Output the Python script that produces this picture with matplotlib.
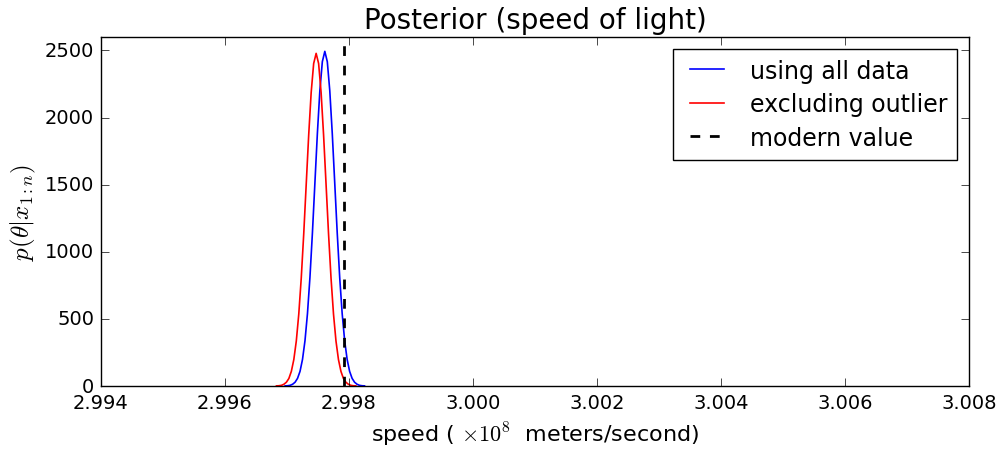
import matplotlib
matplotlib.use('Agg')
import matplotlib.pyplot as plt
from matplotlib.ticker import FormatStrFormatter

# values (speed in units of 1e8 m/s)
x_all = [2.99697, 2.99701, 2.99705, 2.99709, 2.99713, 2.99717, 2.99721, 2.99725,
         2.99729, 2.99733, 2.99737, 2.99741, 2.99745, 2.99749, 2.99753, 2.99757,
         2.99761, 2.99765, 2.99769, 2.99773, 2.99777, 2.99781, 2.99785, 2.99789,
         2.99793, 2.99797, 2.99801, 2.99805, 2.99809, 2.99813, 2.99817, 2.99821,
         2.99825]
p_all = [1, 2, 5, 13, 28, 57, 109, 198, 337, 539, 809, 1141, 1512, 1882, 2200, 2416,
         2493, 2416, 2200, 1882, 1512, 1141, 809, 539, 337, 198, 109, 57, 28, 13, 5, 2, 1]

x_excl = [2.99683, 2.99687, 2.99691, 2.99695, 2.99699, 2.99703, 2.99707, 2.99711,
          2.99715, 2.99719, 2.99723, 2.99727, 2.99731, 2.99735, 2.99739, 2.99743,
          2.99747, 2.99751, 2.99755, 2.99759, 2.99763, 2.99767, 2.99771, 2.99775,
          2.99779, 2.99783, 2.99787, 2.99791, 2.99795, 2.99799, 2.99803, 2.99807,
          2.99811]
p_excl = [1, 2, 5, 13, 28, 56, 109, 197, 335, 536, 805, 1134, 1503, 1870, 2187, 2402,
          2478, 2402, 2187, 1870, 1503, 1134, 805, 536, 335, 197, 109, 56, 28, 13, 5, 2, 1]

modern = 2.99792458
xticks = [2.994, 2.996, 2.998, 3.000, 3.002, 3.004, 3.006, 3.008]
yticks = [0, 500, 1000, 1500, 2000, 2500]

plt.style.use('classic')
plt.rcParams['figure.facecolor'] = 'white'
plt.rcParams['savefig.facecolor'] = 'white'
plt.rcParams['lines.scale_dashes'] = False

fig = plt.figure(figsize=(10, 4.56), dpi=100)
ax = fig.add_axes([0.101, 0.1513, 0.868, 0.7654])

ax.plot(x_all, p_all, color='b', lw=1.2, label='using all data')
ax.plot(x_excl, p_excl, color='r', lw=1.2, label='excluding outlier')
ax.axvline(modern, color='k', lw=2, ls='--', dashes=(7, 7), label='modern value')

ax.set_xlim(2.994, 3.008)
ax.set_ylim(0, 2600)
ax.set_xticks(xticks)
ax.set_yticks(yticks)
ax.xaxis.set_major_formatter(FormatStrFormatter('%.3f'))
ax.tick_params(labelsize=14, direction='in', top=True, right=True, length=6, pad=5)

ax.set_title('Posterior (speed of light)', fontsize=20, y=1.005)
ax.set_xlabel(r'speed ( $\times 10^8$  meters/second)', fontsize=16, labelpad=6)
ax.set_ylabel(r'$p(\theta|x_{1:n})$', fontsize=18)

leg = ax.legend(loc='upper right', fontsize=17, frameon=True, fancybox=False,
                borderaxespad=0.5, handlelength=2.04, handletextpad=0.8,
                labelspacing=0.4, borderpad=0.42)
leg.get_frame().set_edgecolor('k')

fig.savefig('out.png', dpi=100)
